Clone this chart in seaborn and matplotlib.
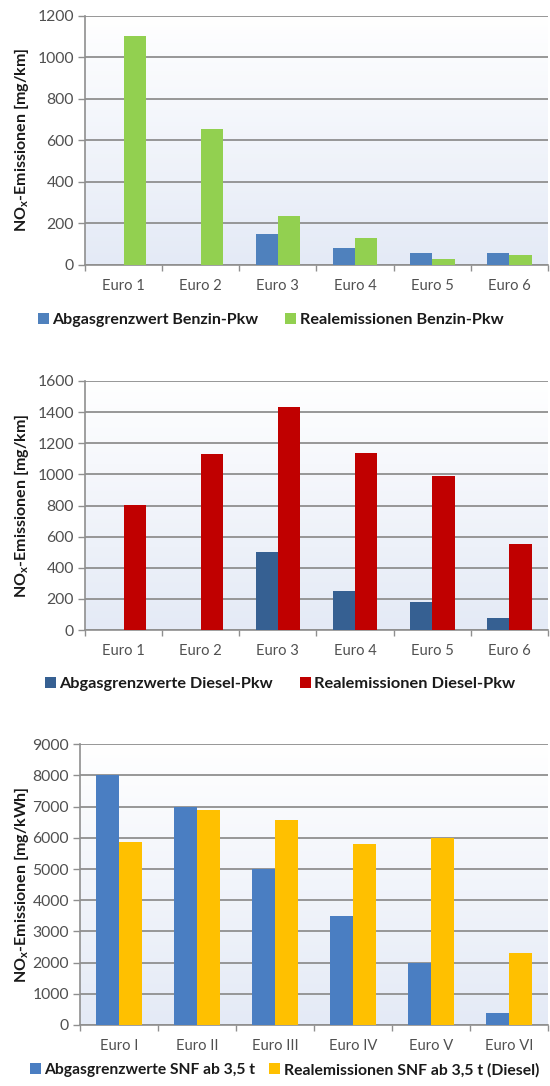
import numpy as np
import pandas as pd
import matplotlib
matplotlib.use("Agg")
import matplotlib.pyplot as plt
from matplotlib.legend import Legend
import seaborn as sns

sns.set_theme(style="white")
plt.rcParams["font.family"] = ["Lato", "DejaVu Sans"]
plt.rcParams["mathtext.fontset"] = "custom"
plt.rcParams["mathtext.bf"] = "Lato:bold"
plt.rcParams["mathtext.rm"] = "Lato"

# --- data -------------------------------------------------------------
pkw_stages = ["Euro 1", "Euro 2", "Euro 3", "Euro 4", "Euro 5", "Euro 6"]
snf_stages = ["Euro I", "Euro II", "Euro III", "Euro IV", "Euro V", "Euro VI"]

benzin_grenz = [np.nan, np.nan, 150, 80, 60, 60]
benzin_real = [1100, 655, 235, 130, 30, 48]

diesel_grenz = [np.nan, np.nan, 500, 250, 180, 80]
diesel_real = [805, 1130, 1430, 1140, 990, 555]

snf_grenz = [8000, 7000, 5000, 3500, 2000, 400]
snf_real = [5880, 6880, 6560, 5800, 6000, 2320]

# layout per panel (pixels): plot box, legend row, legend entry x positions
# and the widths the two legend labels should take
panels = [
    dict(stages=pkw_stages, a=benzin_grenz, b=benzin_real,
         la="Abgasgrenzwert Benzin-Pkw", lb="Realemissionen Benzin-Pkw",
         ca="#4f81bd", cb="#92d050", ymax=1200, step=200, unit="mg/km",
         box=(85, 548, 15.7, 265), leg_y=320,
         leg_x=(38, 285), leg_w=(206, 203)),
    dict(stages=pkw_stages, a=diesel_grenz, b=diesel_real,
         la="Abgasgrenzwerte Diesel-Pkw", lb="Realemissionen Diesel-Pkw",
         ca="#366092", cb="#c00000", ymax=1600, step=200, unit="mg/km",
         box=(85, 548, 381, 630), leg_y=684,
         leg_x=(45, 300), leg_w=(213, 200)),
    dict(stages=snf_stages, a=snf_grenz, b=snf_real,
         la="Abgasgrenzwerte SNF ab 3,5 t", lb="Realemissionen SNF ab 3,5 t (Diesel)",
         ca="#4a7ec2", cb="#ffc000", ymax=9000, step=1000, unit="mg/kWh",
         box=(80, 548, 744.3, 1025), leg_y=1070,
         leg_x=(30, 269), leg_w=(210, 254)),
]

W, H = 550, 1086
fig = plt.figure(figsize=(W / 100, H / 100), dpi=100)
renderer = fig.canvas.get_renderer()


def fitted_size(label, width_px, base=12.0):
    t = fig.text(0, 0, label, fontsize=base, fontweight="bold")
    w = t.get_window_extent(renderer).width
    t.remove()
    return base * width_px / w


grad = np.linspace(0, 1, 256).reshape(-1, 1)
bg_cmap = matplotlib.colors.LinearSegmentedColormap.from_list(
    "bg", ["#e4eaf6", "#ffffff"])

for p in panels:
    x0, x1, y0, y1 = p["box"]
    ax = fig.add_axes([x0 / W, 1 - y1 / H, (x1 - x0) / W, (y1 - y0) / H])

    df = pd.DataFrame({
        "Stufe": p["stages"] * 2,
        "Wert": list(p["a"]) + list(p["b"]),
        "Reihe": [p["la"]] * 6 + [p["lb"]] * 6,
    }).dropna()

    sns.barplot(data=df, x="Stufe", y="Wert", hue="Reihe",
                order=p["stages"], hue_order=[p["la"], p["lb"]],
                palette=[p["ca"], p["cb"]], width=0.58, gap=0,
                errorbar=None, saturation=1, linewidth=0, ax=ax, zorder=3,
                legend=True)

    # background gradient
    ax.imshow(grad, extent=[0, 1, 0, 1], transform=ax.transAxes,
              cmap=bg_cmap, aspect="auto", zorder=0, origin="lower")

    ax.set_xlim(-0.5, 5.5)
    ax.set_ylim(0, p["ymax"])
    ticks = np.arange(0, p["ymax"] + 1, p["step"])
    ax.set_yticks(ticks)
    ax.set_yticklabels([str(int(t)) for t in ticks])
    ax.yaxis.grid(True, color="#8f8f8f", linewidth=1.3, zorder=1)
    ax.set_axisbelow(True)

    ax.set_xticks(range(6))
    ax.set_xticklabels(p["stages"])
    ax.set_xticks(np.arange(-0.5, 6, 1), minor=True)
    ax.tick_params(axis="x", which="major", length=0, pad=10,
                   labelsize=10.6, labelcolor="#505050")
    ax.tick_params(axis="x", which="minor", length=4, width=1,
                   color="#8f8f8f", bottom=True, direction="out")
    ax.tick_params(axis="y", length=5, width=1, color="#8f8f8f",
                   left=True, direction="out", pad=3,
                   labelsize=11.3, labelcolor="#505050")

    for s in ["top", "right"]:
        ax.spines[s].set_visible(False)
    for s in ["left", "bottom"]:
        ax.spines[s].set_color("#8f8f8f")
        ax.spines[s].set_linewidth(1.2)

    ax.set_xlabel("")
    ax.set_ylabel(r"NO$_\mathbf{x}$-Emissionen [" + p["unit"] + "]",
                  fontsize=11.5, fontweight="bold", color="#1a1a1a")
    ax.yaxis.set_label_coords((31 - x0) / (x1 - x0), 0.5)

    # one legend entry per series, each anchored at its own position
    handles, labels = ax.get_legend_handles_labels()
    ax.get_legend().remove()
    for h, lab, lx, lw in zip(handles, labels, p["leg_x"], p["leg_w"]):
        size = fitted_size(lab, lw)
        fs_px = size * 100 / 72
        leg = Legend(ax, [h], [lab], loc="center left",
                     bbox_to_anchor=(lx / W, 1 - p["leg_y"] / H),
                     bbox_transform=fig.transFigure, frameon=False,
                     handlelength=10.5 / fs_px, handleheight=10.5 / fs_px,
                     handletextpad=4 / fs_px, borderaxespad=0, borderpad=0,
                     prop=dict(size=size, weight="bold"), labelcolor="#1a1a1a")
        ax.add_artist(leg)

fig.savefig("out.png", dpi=100)
